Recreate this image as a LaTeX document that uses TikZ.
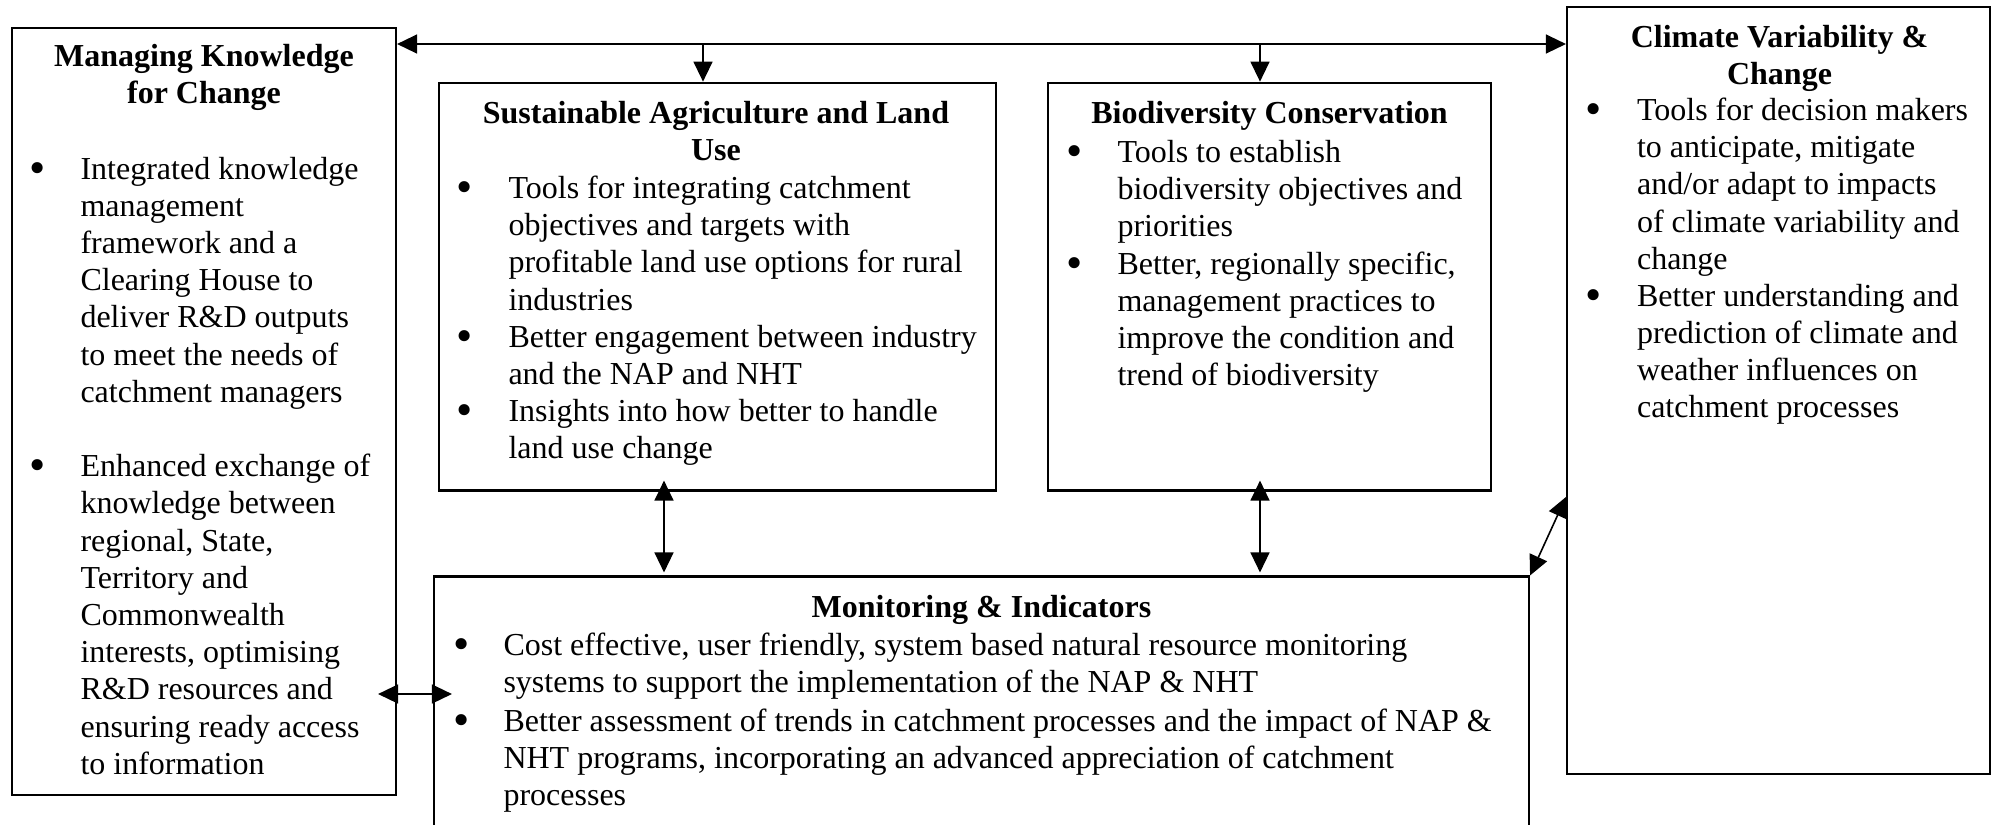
\documentclass[tikz,border=0pt]{standalone}
\usepackage{graphicx}
\usepackage{fontspec}
\setmainfont{Liberation Serif}
\usetikzlibrary{arrows.meta,calc,fit}
\newcommand{\fsz}{\fontsize{12pt}{13.95pt}\selectfont}
\newcommand{\lns}[1]{\parbox[t]{420pt}{#1}}
\newcommand{\tls}[1]{\parbox[t]{300pt}{\centering #1}}
\newcommand{\bu}{\raisebox{-1.5pt}{\scalebox{1.45}{•}}}
\begin{document}
\begin{tikzpicture}[x=0.375pt,y=-0.375pt,
  box/.style={draw, line width=0.8pt, inner sep=0pt, rectangle},
  ttl/.style={anchor=base, inner sep=0pt, font=\fsz\bfseries},
  txt/.style={anchor=base west, inner sep=0pt, font=\fsz},
  bul/.style={anchor=base, inner sep=0pt, font=\fsz},
  conn/.style={line width=0.6pt, -{Triangle[length=7.5pt,width=7.1pt]}},
  dconn/.style={line width=0.6pt, {Triangle[length=7.5pt,width=7.1pt]}-{Triangle[length=7.5pt,width=7.1pt]}}
]
\useasboundingbox (0,0) rectangle (1995,824);
\clip (0,0) rectangle (1995,824);
\fill[white] (0,0) rectangle (1995,824);

% boxes
\node[box, fit={(12,28) (396,795)}] (mk) {};
\node[box, fit={(439,82.7) (996,490.5)}] (sa) {};
\node[box, fit={(1048,82.7) (1491,490.5)}] (bc) {};
\node[box, fit={(1567,7) (1990,774)}] (cv) {};
\node[box, fit={(434,576.5) (1529,900)}] (mi) {};

% Managing Knowledge
\node[ttl] (mkt) at (204,66.7) {\tls{Managing Knowledge\\for Change}};
\node[bul] (mkb1) at (38,179) {\bu};
\node[txt] (mk1) at (80,179) {\lns{Integrated knowledge\\management\\framework and a\\Clearing House to\\deliver R\&D outputs\\to meet the needs of\\catchment managers}};
\node[bul] (mkb2) at (38,476.6) {\bu};
\node[txt] (mk2) at (80,476.6) {\lns{Enhanced exchange of\\knowledge between\\regional, State,\\Territory and\\Commonwealth\\interests, optimising\\R\&D resources and\\ensuring ready access\\to information}};

% Sustainable Agriculture
\node[ttl] (sat) at (716,123.3) {\tls{Sustainable Agriculture and Land\\Use}};
\node[bul] (sab1) at (465,198.5) {\bu};
\node[txt] (sa1) at (508,198.5) {\lns{Tools for integrating catchment\\objectives and targets with\\profitable land use options for rural\\industries}};
\node[bul] (sab2) at (465,347.3) {\bu};
\node[txt] (sa2) at (508,347.3) {\lns{Better engagement between industry\\and the NAP and NHT}};
\node[bul] (sab3) at (465,421.7) {\bu};
\node[txt] (sa3) at (508,421.7) {\lns{Insights into how better to handle\\land use change}};

% Biodiversity
\node[ttl] (bct) at (1269.5,123.3) {\tls{Biodiversity Conservation}};
\node[bul] (bcb1) at (1075,162) {\bu};
\node[txt] (bc1) at (1117,162) {\lns{Tools to establish\\biodiversity objectives and\\priorities}};
\node[bul] (bcb2) at (1075,274) {\bu};
\node[txt] (bc2) at (1117,274) {\lns{Better, regionally specific,\\management practices to\\improve the condition and\\trend of biodiversity}};

% Climate
\node[ttl] (cvt) at (1779.5,47.5) {\tls{Climate Variability \&\\Change}};
\node[bul] (cvb1) at (1594,120.5) {\bu};
\node[txt] (cv1) at (1636.5,120.5) {\lns{Tools for decision makers\\to anticipate, mitigate\\and/or adapt to impacts\\of climate variability and\\change}};
\node[bul] (cvb2) at (1594,306) {\bu};
\node[txt] (cv2) at (1636.5,306) {\lns{Better understanding and\\prediction of climate and\\weather influences on\\catchment processes}};

% Monitoring
\node[ttl] (mit) at (981.5,617) {\tls{Monitoring \& Indicators}};
\node[bul] (mib1) at (462,655.5) {\bu};
\node[txt] (mi1) at (503,655.5) {\lns{Cost effective, user friendly, system based natural resource monitoring\\systems to support the implementation of the NAP \& NHT}};
\node[bul] (mib2) at (462,731) {\bu};
\node[txt] (mi2) at (503,731) {\lns{Better assessment of trends in catchment processes and the impact of NAP \&\\NHT programs, incorporating an advanced appreciation of catchment\\processes}};

% connectors
\coordinate (ty) at (0,44);
\coordinate (d1) at (703,44);
\coordinate (d2) at (1260,44);
\coordinate (v1) at (664,0);
\coordinate (v2) at (1260,0);
\coordinate (hy) at (0,694);
\coordinate (dg) at (0,497);
\draw[dconn] (mk.east |- ty) -- (cv.west |- ty);
\draw[conn] (d1) -- (d1 |- sa.north);
\draw[conn] (d2) -- (d2 |- bc.north);
\draw[dconn] ($(v1 |- sa.south)+(0,-11)$) -- ($(v1 |- mi.north)+(0,-3)$);
\draw[dconn] ($(v2 |- bc.south)+(0,-11)$) -- ($(v2 |- mi.north)+(0,-3)$);
\draw[dconn] ($(mk.east |- hy)+(-19,0)$) -- ($(mi.west |- hy)+(19,0)$);
\draw[dconn] (mi.north east) -- (cv.west |- dg);
\end{tikzpicture}
\end{document}
